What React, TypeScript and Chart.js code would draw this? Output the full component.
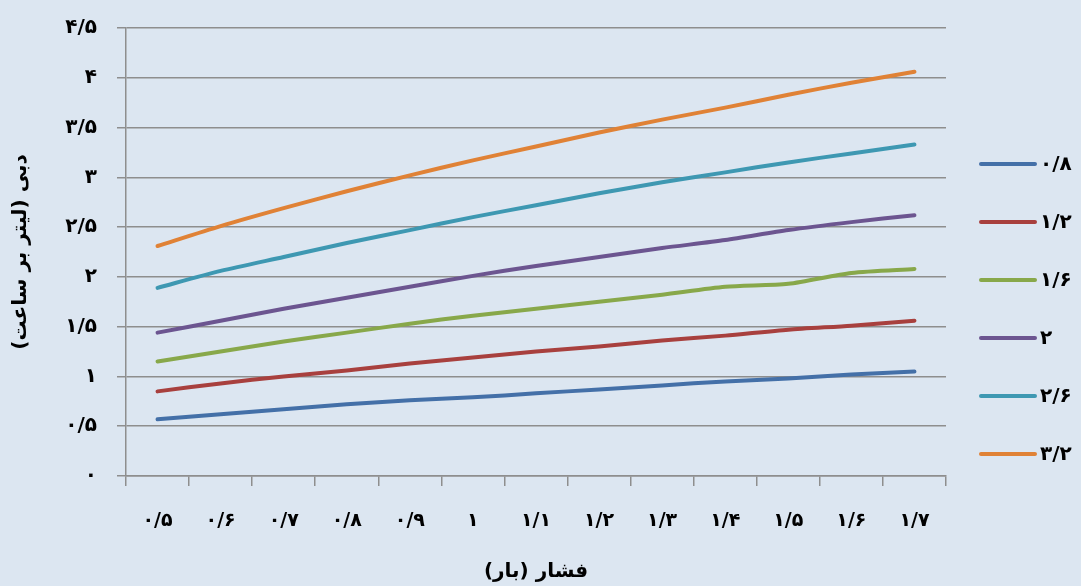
import { useEffect, useRef } from 'react';
import { Chart, registerables } from 'chart.js';

Chart.register(...registerables);

const categories = ['۰/۵', '۰/۶', '۰/۷', '۰/۸', '۰/۹', '۱', '۱/۱', '۱/۲', '۱/۳', '۱/۴', '۱/۵', '۱/۶', '۱/۷'];
const yTickLabels = ['۰', '۰/۵', '۱', '۱/۵', '۲', '۲/۵', '۳', '۳/۵', '۴', '۴/۵'];
const seriesLabels = ['۰/۸', '۱/۲', '۱/۶', '۲', '۲/۶', '۳/۲'];

const series08 = [0.57, 0.62, 0.67, 0.72, 0.76, 0.79, 0.83, 0.87, 0.91, 0.95, 0.98, 1.02, 1.05];
const series12 = [0.85, 0.93, 1.0, 1.06, 1.13, 1.19, 1.25, 1.30, 1.36, 1.41, 1.47, 1.51, 1.56];
const series16 = [1.15, 1.25, 1.35, 1.44, 1.53, 1.61, 1.68, 1.75, 1.82, 1.90, 1.93, 2.04, 2.08];
const series20 = [1.44, 1.56, 1.68, 1.79, 1.90, 2.01, 2.11, 2.20, 2.29, 2.37, 2.47, 2.55, 2.62];
const series26 = [1.89, 2.06, 2.20, 2.34, 2.47, 2.60, 2.72, 2.84, 2.95, 3.05, 3.15, 3.24, 3.33];
const series32 = [2.31, 2.51, 2.69, 2.86, 3.02, 3.17, 3.31, 3.45, 3.58, 3.70, 3.83, 3.95, 4.06];

const seriesValues = [series08, series12, series16, series20, series26, series32];
const seriesColors = ['#4470a8', '#a8403e', '#88a84a', '#6c5590', '#3e98b2', '#e08236'];

const yTitle = '\u202Bدبی (لیتر بر ساعت)\u202C';
const xTitle = '\u202Bفشار (بار)\u202C';

const BG = '#dce6f1';
const GRID = '#8e8e8e';
const FONT = "'DejaVu Sans', sans-serif";

const sideLegend = {
  id: 'sideLegend',
  afterDraw(chart: any) {
    const ctx = chart.ctx as CanvasRenderingContext2D;
    const x0 = chart.chartArea.right + 35;
    const len = 54;
    const top = 164;
    const gap = 58;
    ctx.save();
    chart.data.datasets.forEach((ds: any, i: number) => {
      const y = top + i * gap;
      ctx.strokeStyle = ds.borderColor;
      ctx.lineWidth = 4;
      ctx.lineCap = 'round';
      ctx.beginPath();
      ctx.moveTo(x0, y);
      ctx.lineTo(x0 + len, y);
      ctx.stroke();
      ctx.fillStyle = '#000';
      ctx.font = `bold 20px ${FONT}`;
      ctx.textAlign = 'left';
      ctx.textBaseline = 'middle';
      ctx.fillText(ds.label, x0 + len + 5, y + 1);
    });
    ctx.restore();
  },
};

export default function App() {
  const ref = useRef<HTMLCanvasElement>(null);

  useEffect(() => {
    if (!ref.current) return;
    const chart = new Chart(ref.current, {
      type: 'line',
      data: {
        labels: categories,
        datasets: seriesValues.map((vals, i) => ({
          label: seriesLabels[i],
          data: vals,
          borderColor: seriesColors[i],
          backgroundColor: seriesColors[i],
          borderWidth: 4,
          borderCapStyle: 'round',
          borderJoinStyle: 'round',
          pointRadius: 0,
          tension: 0.25,
          fill: false,
        })),
      },
      options: {
        responsive: false,
        animation: false,
        devicePixelRatio: 1,
        layout: { padding: { top: 28, right: 135, left: 0, bottom: 0 } },
        plugins: {
          legend: { display: false },
          tooltip: { enabled: false },
        },
        scales: {
          x: {
            type: 'category',
            offset: true,
            grid: {
              display: true,
              offset: true,
              drawOnChartArea: false,
              drawTicks: true,
              tickLength: 10,
              color: GRID,
              lineWidth: 1.5,
            },
            border: { display: true, color: GRID, width: 1.5 },
            ticks: {
              color: '#000',
              font: { family: FONT, size: 19, weight: 'bold' },
              padding: 24,
              maxRotation: 0,
              autoSkip: false,
            },
            title: {
              display: true,
              text: xTitle,
              color: '#000',
              font: { family: FONT, size: 20, weight: 'bold' },
              padding: { top: 0, bottom: 2 },
            },
            afterFit: (scale: any) => {
              scale.height = 110;
            },
          },
          y: {
            min: 0,
            max: 4.5,
            grid: {
              color: GRID,
              lineWidth: 1.5,
              tickLength: 9,
              drawTicks: true,
            },
            border: { display: true, color: GRID, width: 1.5 },
            ticks: {
              stepSize: 0.5,
              color: '#000',
              font: { family: FONT, size: 20, weight: 'bold', lineHeight: 0.8 },
              padding: 20,
              callback: (_v: any, idx: number) => yTickLabels[idx],
            },
            title: {
              display: true,
              text: yTitle,
              color: '#000',
              font: { family: FONT, size: 20, weight: 'bold' },
              padding: { top: 9, bottom: 0 },
            },
            afterFit: (scale: any) => {
              scale.width = 126;
            },
          },
        },
      },
      plugins: [sideLegend],
    } as any);
    return () => chart.destroy();
  }, []);

  return (
    <div style={{ position: 'fixed', left: 0, top: 0, width: 1081, height: 586, background: BG }}>
      <canvas ref={ref} width={1081} height={586} style={{ display: 'block' }} />
    </div>
  );
}
